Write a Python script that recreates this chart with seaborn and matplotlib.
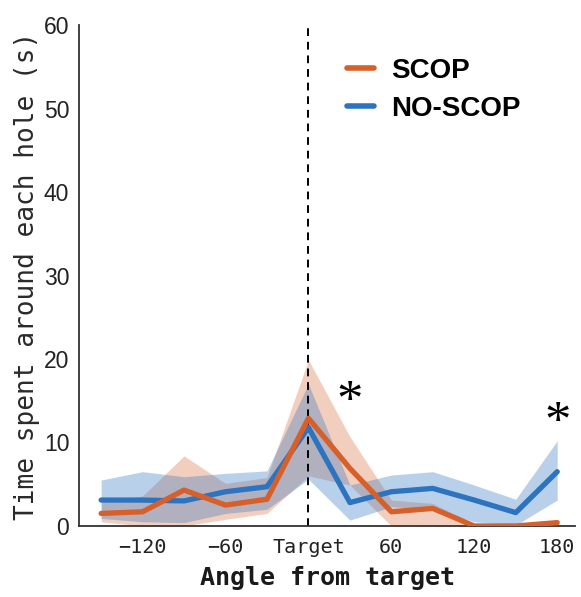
import numpy as np
import pandas as pd
import matplotlib
matplotlib.use("Agg")
import matplotlib.pyplot as plt
import seaborn as sns
from matplotlib.lines import Line2D

angles = [-150, -120, -90, -60, -30, 0, 30, 60, 90, 120, 150, 180]
scop_mean = [1.5, 1.7, 4.3, 2.5, 3.2, 12.9, 6.9, 1.7, 2.1, 0.0, 0.0, 0.4]
scop_upper = [2.8, 3.6, 8.4, 5.1, 5.8, 19.9, 10.7, 3.1, 2.7, 0.2, 0.0, 0.6]
scop_lower = [0.5, 0.0, 0.0, 0.8, 1.5, 6.0, 4.9, 0.0, 0.0, 0.0, 0.0, 0.2]
noscop_mean = [3.1, 3.1, 3.0, 4.1, 4.7, 11.8, 2.8, 4.1, 4.5, 3.1, 1.6, 6.5]
noscop_upper = [5.5, 6.5, 5.9, 6.3, 6.6, 17.0, 4.9, 6.1, 6.5, 4.9, 3.2, 10.2]
noscop_lower = [0.9, 0.5, 0.4, 1.5, 2.0, 5.6, 0.7, 2.3, 2.0, 0.5, 0.1, 3.1]
groups = ["SCOP", "NO-SCOP"]
tick_positions = [-150, -120, -90, -60, -30, 0, 30, 60, 90, 120, 150, 180]
tick_labels = ["", "\u2212120", "", "\u221260", "", "Target", "", "60", "", "120", "", "180"]
y_ticks = [0, 10, 20, 30, 40, 50, 60]
star_angles = [30, 180]
star_values = [14.7, 12.2]

orange = "#D65F2A"
blue = "#2C73C0"
palette = {"SCOP": orange, "NO-SCOP": blue}

sns.set_style("white")
plt.rcParams["font.family"] = ["DejaVu Sans Mono", "DejaVu Sans"]
plt.rcParams["text.color"] = "black"
plt.rcParams["axes.labelcolor"] = "black"

df = pd.DataFrame({
    "angle": angles * 2,
    "time": scop_mean + noscop_mean,
    "group": [groups[0]] * len(angles) + [groups[1]] * len(angles),
})

fig = plt.figure(figsize=(5.81, 5.97), dpi=100)
ax = fig.add_axes([0.136, 0.119, 0.854, 0.839])

ax.fill_between(angles, scop_lower, scop_upper, color=orange, alpha=0.3, linewidth=0, zorder=1)
ax.fill_between(angles, noscop_lower, noscop_upper, color=blue, alpha=0.33, linewidth=0, zorder=1)

ax.axvline(0, color="black", linestyle=(0, (4, 3)), linewidth=1.4, zorder=2)

sns.lineplot(data=df, x="angle", y="time", hue="group", hue_order=["NO-SCOP", "SCOP"],
             palette=palette, linewidth=3.8, ax=ax, legend=False, zorder=3)

for a, v in zip(star_angles, star_values):
    ax.text(a, v, "*", ha="center", va="center", fontsize=38, fontfamily="Liberation Serif",
            color="black", zorder=4)

ax.set_xlim(-166, 193)
ax.set_ylim(0, 60)
ax.set_xticks(tick_positions)
ax.set_xticklabels(tick_labels, fontsize=14.5, color="#222222")
ax.set_yticks(y_ticks)
ax.set_yticklabels([str(v) for v in y_ticks], fontsize=16.5, fontfamily="Liberation Sans", color="#222222")
ax.tick_params(axis="both", direction="in", length=5, width=1.3, color="#333333")
ax.tick_params(axis="x", pad=9)
ax.tick_params(axis="y", pad=7)

for s in ["top", "right"]:
    ax.spines[s].set_visible(False)
for s in ["left", "bottom"]:
    ax.spines[s].set_color("#333333")
    ax.spines[s].set_linewidth(1.3)

ax.set_xlabel("Angle from target", fontsize=18, fontweight="bold", labelpad=6, color="#1a1a1a")
ax.set_ylabel("Time spent around each hole (s)", fontsize=18.8, labelpad=3, color="#2a2a2a")

handles = [Line2D([0], [0], color=orange, linewidth=4),
           Line2D([0], [0], color=blue, linewidth=4)]
leg = ax.legend(handles, groups, loc="upper left", bbox_to_anchor=(0.49, 0.984), frameon=False,
                handlelength=0.95, handletextpad=0.65, labelspacing=0.42,
                prop={"family": "Liberation Sans", "weight": "bold", "size": 20})
for t in leg.get_texts():
    t.set_color("black")

fig.savefig("out.png", dpi=100)
